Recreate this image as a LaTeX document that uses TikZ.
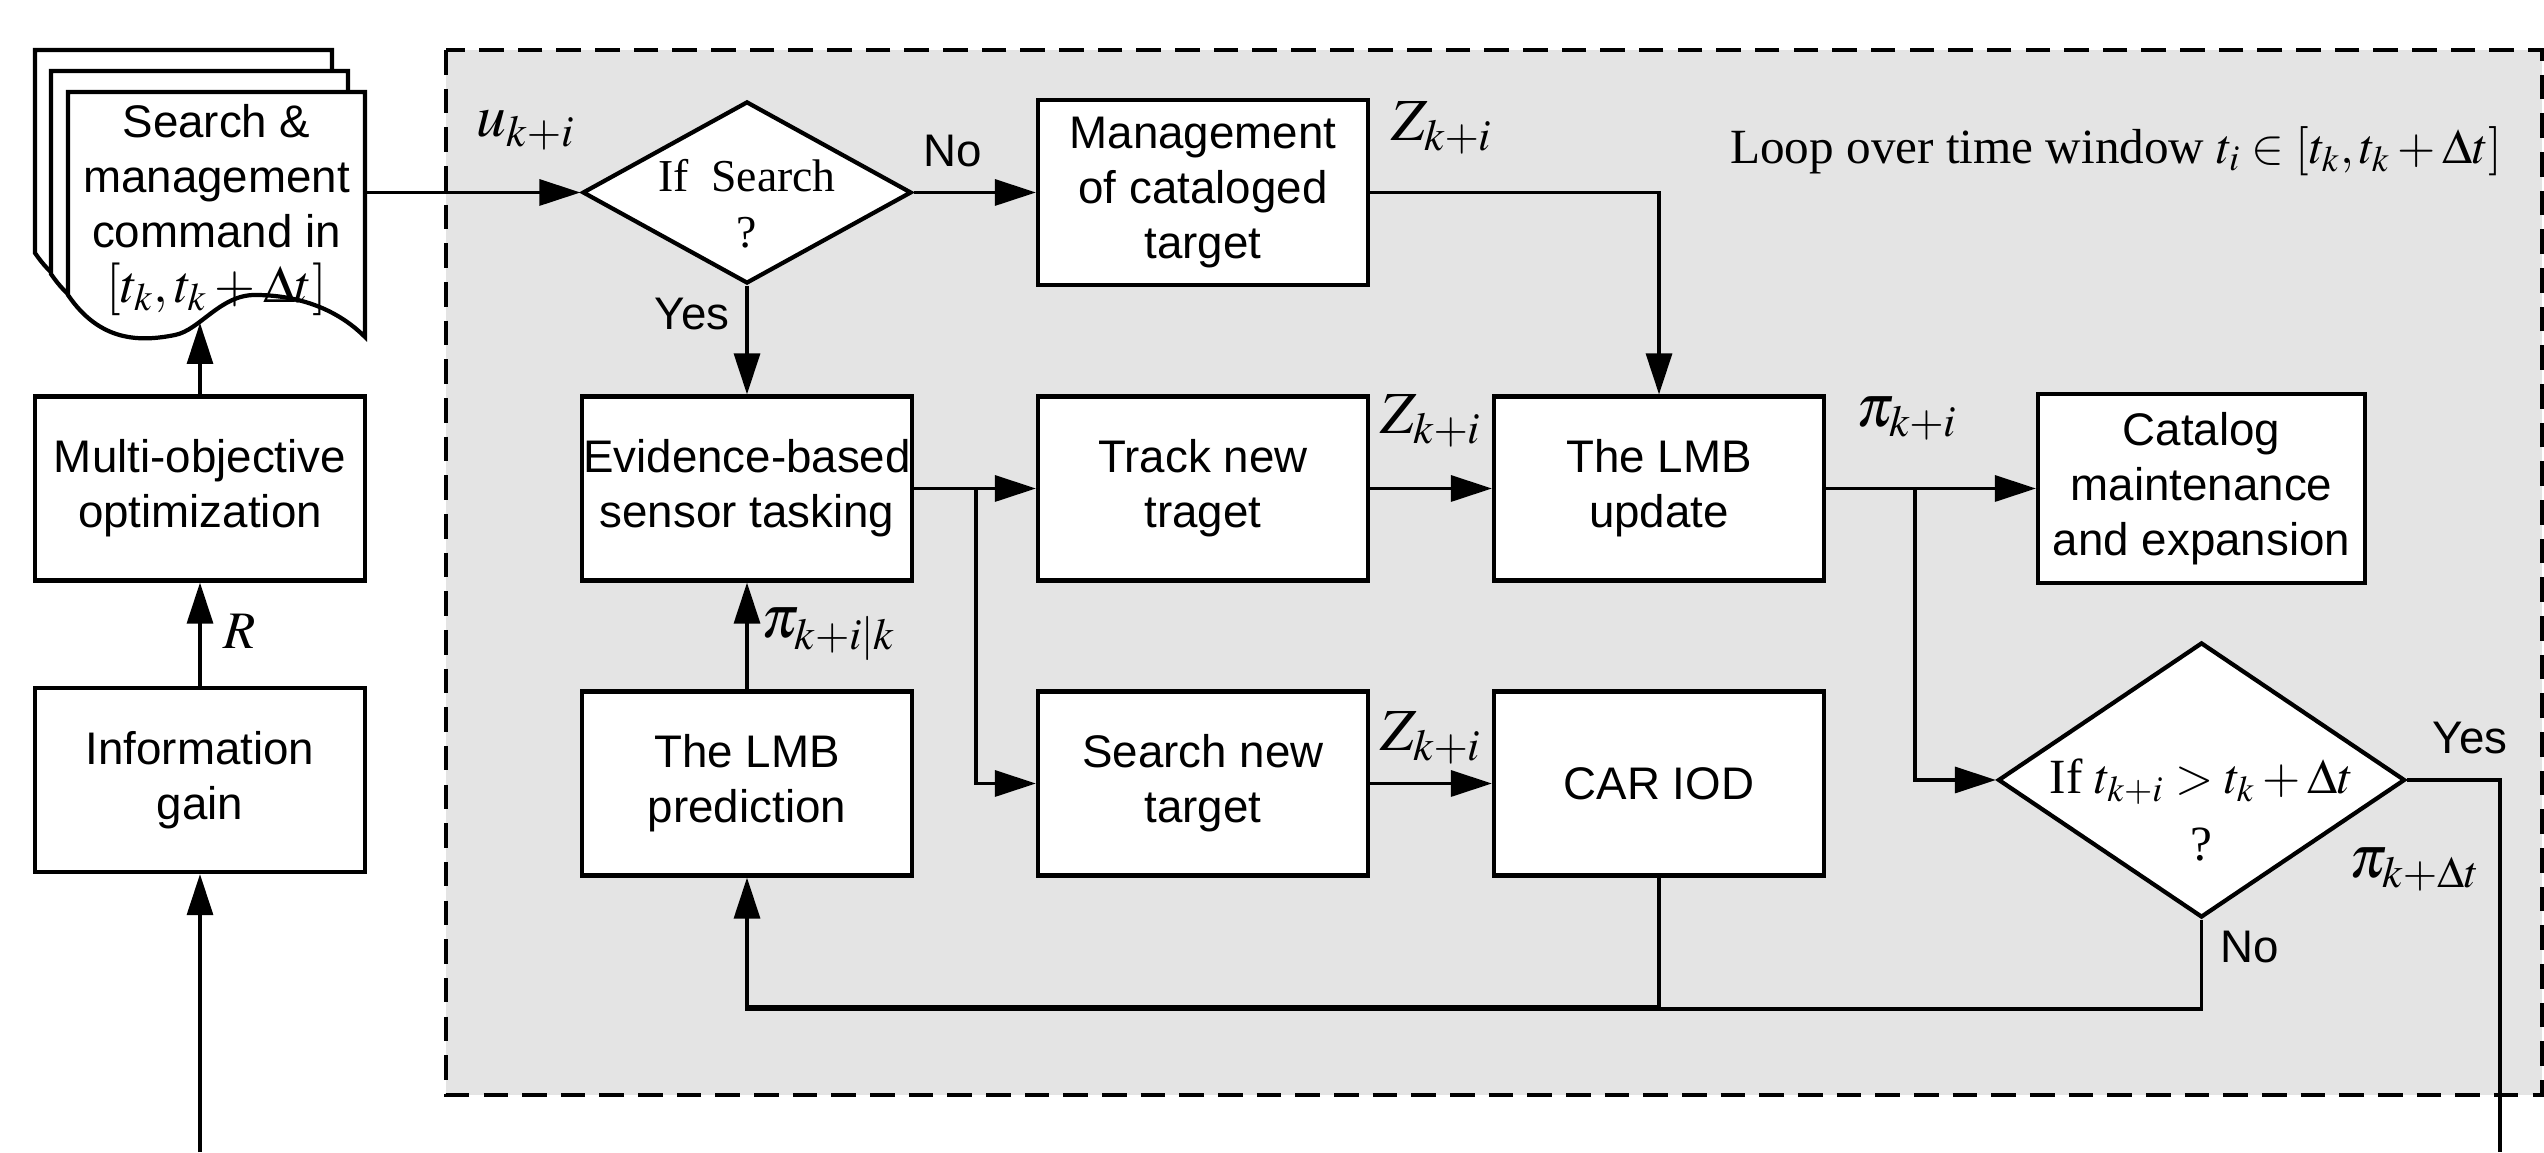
\documentclass[tikz,border=0pt]{standalone}
\usepackage{amsmath}
\usepackage{mathptmx}
\usepackage[no-math]{fontspec}
\setmainfont{Liberation Sans}
\newfontfamily\loopfont{Liberation Serif}
\usetikzlibrary{arrows.meta,shapes.geometric}
\definecolor{loopgray}{HTML}{E4E4E4}

\begin{document}
\begin{tikzpicture}[
		box/.style={draw,line width=1.2pt,fill=white,align=center,inner sep=0pt,minimum width=3.3cm,minimum height=1.84cm,font=\fontsize{13}{15.6}\selectfont},
		decision/.style={draw,diamond,line width=1.2pt,fill=white,align=center,inner sep=-0.6cm,font=\loopfont\fontsize{13}{16}\selectfont},
		conn/.style={line width=0.9pt},
		arr/.style={line width=0.9pt,-{Triangle[length=0.41cm,width=0.26cm]}},
		sym/.style={font=\fontsize{17}{20}\selectfont},
		word/.style={font=\fontsize{13}{15.6}\selectfont}]
		\useasboundingbox (0,0) rectangle (25.44,11.52);
		\draw[fill=loopgray,line width=1.2pt,dash pattern=on 7pt off 4pt] (4.46,11.02) rectangle (25.42,0.57);
		\foreach \dx/\dy in {-0.33/0.42,-0.17/0.21,0/0}
		{
		\draw[shift={(\dx,\dy)},fill=white,line width=1.2pt] (0.68,10.60)--(3.65,10.60)--(3.65,8.15) .. controls (3.35,8.45) and (2.95,8.57) .. (2.55,8.57) .. controls (2.2,8.57) and (2.0,8.22) .. (1.75,8.17) .. controls (1.4,8.1) and (1.0,8.1) .. (0.68,8.57)--cycle;
		}
		\node[word,align=center] (cmd) at (2.165,9.42) {Search \&\\management\\command in\\{\fontsize{15}{15}\selectfont$[t_k,t_k+\Delta t]$}};
		\node[decision,minimum width=3.29cm,minimum height=1.82cm] (srch) at (7.47,9.595) {\rule{0pt}{0.55cm}If\ \ Search\\?};
		\node[box,minimum height=1.85cm] (manage) at (12.03,9.595) {Management\\of cataloged\\target};
		\node[box] (multi) at (2.00,6.635) {Multi-objective\\optimization};
		\node[box] (evid) at (7.47,6.635) {Evidence-based\\sensor tasking};
		\node[box] (track) at (12.03,6.635) {Track new\\traget};
		\node[box] (update) at (16.59,6.635) {The LMB\\update};
		\node[box,minimum width=3.27cm,minimum height=1.89cm] (catalog) at (22.015,6.635) {Catalog\\maintenance\\and expansion};
		\node[box] (info) at (2.00,3.72) {Information\\gain};
		\node[box] (pred) at (7.47,3.685) {The LMB\\prediction};
		\node[box] (search) at (12.03,3.685) {Search new\\target};
		\node[box] (car) at (16.59,3.685) {CAR IOD};
		\node[decision,font=\loopfont\fontsize{14}{19}\selectfont,minimum width=4.07cm,minimum height=2.75cm] (tcheck) at (22.015,3.72) {\rule{0pt}{0.95cm}If $t_{k+i}>t_k+\Delta t$\\?};
		\coordinate (docout) at (3.65,9.595);
		\coordinate (docin) at (2.00,8.29);
		\coordinate (infoin) at (2.00,0);
		\coordinate (fork) at (9.76,6.635);
		\coordinate (split) at (19.15,6.635);
		\coordinate (done) at (25.00,0);
		\coordinate (back) at (7.47,1.43);
		\coordinate (backc) at (7.47,1.45);
		\draw[arr] (docout) -- (srch.west);
		\draw[arr] (srch.east) -- (manage.west);
		\draw[arr] (srch.south) -- (evid.north);
		\draw[arr] (manage.east) -| (update.north);
		\draw[arr] (evid.east) -- (track.west);
		\draw[arr] (fork) |- (search.west);
		\draw[arr] (track.east) -- (update.west);
		\draw[arr] (search.east) -- (car.west);
		\draw[arr] (update.east) -- (catalog.west);
		\draw[arr] (split) |- (tcheck.west);
		\draw[conn] (tcheck.east) -| (done);
		\draw[arr] (tcheck.south) |- (back) -- (pred.south);
		\draw[conn] (car.south) |- (backc);
		\draw[arr] (pred.north) -- (evid.south);
		\draw[arr] (info.north) -- (multi.south);
		\draw[arr] (multi.north) -- (docin);
		\draw[arr] (infoin) -- (info.south);
		\node[sym] (ulab) at (5.26,10.22) {$u_{k+i}$};
		\node[word] (nolab) at (9.53,10.01) {No};
		\node[word] (yeslab) at (6.92,8.38) {Yes};
		\node[sym] (zlab1) at (14.42,10.24) {$Z_{k+i}$};
		\node[font=\loopfont\fontsize{14}{17}\selectfont] (looplab) at (21.16,10.01) {Loop over time window $t_i\in[t_k,t_k+\Delta t]$};
		\node[sym] (zlab2) at (14.31,7.31) {$Z_{k+i}$};
		\node[sym] (pilab) at (19.07,7.33) {$\pi_{k+i}$};
		\node[font=\fontsize{15}{18}\selectfont] (rlab) at (2.40,5.21) {$R$};
		\node[sym] (predlab) at (8.29,5.18) {$\pi_{k+i|k}$};
		\node[sym] (zlab3) at (14.31,4.14) {$Z_{k+i}$};
		\node[word] (yeslab2) at (24.70,4.14) {Yes};
		\node[sym] (pilab2) at (24.15,2.82) {$\pi_{k+\Delta t}$};
		\node[word] (nolab2) at (22.50,2.05) {No};
\end{tikzpicture}
\end{document}
